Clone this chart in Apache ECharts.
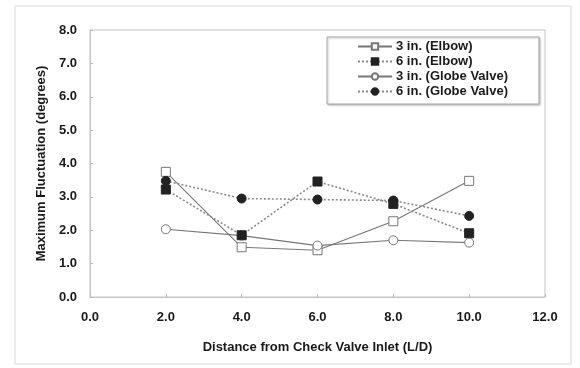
<!DOCTYPE html>
<html>
<head>
<meta charset="utf-8">
<script src="https://cdn.jsdelivr.net/npm/echarts@6/dist/echarts.min.js"></script>
<style>
html,body{margin:0;padding:0;background:#fff;}
#c{width:580px;height:368px;}
</style>
</head>
<body>
<div id="c"></div>
<script>
var xValues = [2, 4, 6, 8, 10];
var elbow3 = [3.75, 1.49, 1.40, 2.27, 3.48];
var elbow6 = [3.22, 1.85, 3.46, 2.79, 1.91];
var globe3 = [2.03, 1.84, 1.54, 1.70, 1.63];
var globe6 = [3.48, 2.95, 2.92, 2.89, 2.43];
var seriesNames = ['3 in. (Elbow)', '6 in. (Elbow)', '3 in. (Globe Valve)', '6 in. (Globe Valve)'];
var xTitle = 'Distance from Check Valve Inlet (L/D)';
var yTitle = 'Maximum Fluctuation (degrees)';

function pairs(vals){ return xValues.map(function(x,i){ return [x, vals[i]]; }); }

var FONT = '"Liberation Sans", Arial, sans-serif';
var chart = echarts.init(document.getElementById('c'), null, {renderer:'canvas'});

function mk(name, data, symbol, filled, dotted, z){
  return {
    name: name, type: 'line', data: pairs(data), z: z,
    symbol: symbol, symbolSize: 9, showAllSymbol: true,
    lineStyle: {color: dotted ? '#8a8a8a' : '#777', width: dotted ? 1.6 : 1.1, type: dotted ? [2,2] : 'solid'},
    itemStyle: {color: filled ? '#222' : '#fff', borderColor: filled ? '#222' : '#777', borderWidth: 1},
    emphasis: {disabled: true},
    animation: false
  };
}

chart.setOption({
  backgroundColor: '#fff',
  animation: false,
  graphic: [
    {type:'rect', shape:{x:15, y:6, width:556, height:358}, style:{fill:'none', stroke:'#d8d8d8', lineWidth:1}, silent:true, z:-10},
    {type:'rect', shape:{x:327, y:37, width:212, height:67}, style:{fill:'#fff', stroke:'#a8a8a8', lineWidth:1, shadowColor:'rgba(0,0,0,0.25)', shadowBlur:2, shadowOffsetX:1, shadowOffsetY:1}, z:5, silent:true}
  ],
  grid: {left:90, right:35, top:30, bottom:71, show:true, borderColor:'#c4c4c4', borderWidth:1, backgroundColor:'#fff'},
  legend: {
    orient:'vertical', left:357, top:40, itemWidth:34, itemHeight:8, itemGap:2, padding:0, z:10,
    textStyle:{fontFamily:FONT, fontWeight:'bold', fontSize:13, color:'#1a1a1a', padding:[0,0,0,-1]},
    data: seriesNames
  },
  xAxis: {
    type:'value', min:0, max:12, interval:2,
    name: xTitle, nameLocation:'middle', nameGap:44,
    nameTextStyle:{fontFamily:FONT, fontWeight:'bold', fontSize:13, color:'#1a1a1a'},
    axisLine:{show:true, lineStyle:{color:'#c4c4c4'}},
    axisTick:{show:true, inside:true, length:3, lineStyle:{color:'#bbb'}},
    splitLine:{show:false},
    axisLabel:{fontFamily:FONT, fontWeight:'bold', fontSize:13, color:'#1a1a1a', margin:14, formatter:function(v){return v.toFixed(1);}}
  },
  yAxis: {
    type:'value', min:0, max:8, interval:1,
    name: yTitle, nameLocation:'middle', nameGap:40, nameRotate:90,
    nameTextStyle:{fontFamily:FONT, fontWeight:'bold', fontSize:13, color:'#1a1a1a'},
    axisLine:{show:true, lineStyle:{color:'#c4c4c4'}},
    axisTick:{show:true, inside:true, length:3, lineStyle:{color:'#bbb'}},
    splitLine:{show:false},
    axisLabel:{fontFamily:FONT, fontWeight:'bold', fontSize:13, color:'#1a1a1a', margin:13, formatter:function(v){return v.toFixed(1);}}
  },
  series: [
    mk(seriesNames[0], elbow3, 'rect', false, false, 2),
    mk(seriesNames[1], elbow6, 'rect', true, true, 5),
    mk(seriesNames[2], globe3, 'circle', false, false, 3),
    mk(seriesNames[3], globe6, 'circle', true, true, 4)
  ]
});
</script>
</body>
</html>
